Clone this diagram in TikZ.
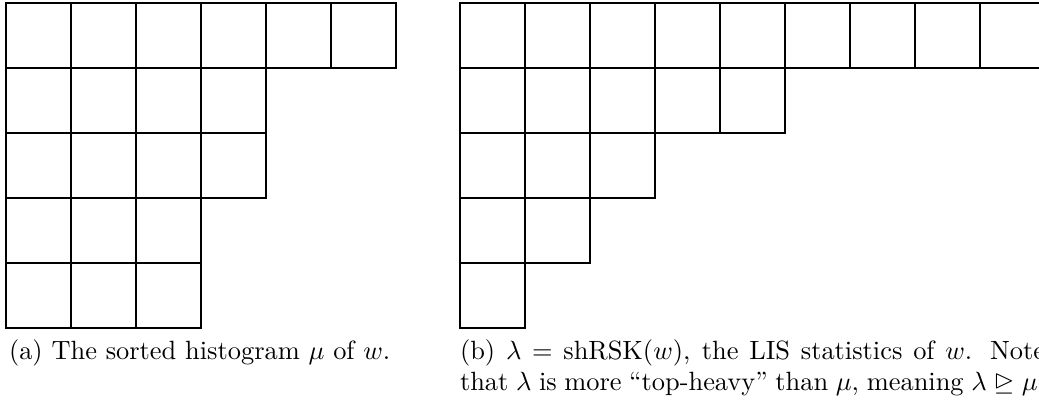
\documentclass[tikz,border=0pt]{standalone}
\usepackage{amssymb}
\usepackage{amsmath}

\begin{document}
\begin{tikzpicture}[
cell/.style = {draw=black, thick},
capt/.style = {inner sep=0pt, outer sep=0pt, anchor=base west}
                ]
    \useasboundingbox (0,0) rectangle (13.834,-5.353);
    \def\c{0.8655}  % side of one box

    % (a) sorted histogram mu
    \def\dx{0.080};
    \def\dy{-0.040};
    \foreach \r/\n in {1/6, 2/4, 3/4, 4/3, 5/3}
        \foreach \k in {1,...,\n}
            \draw[cell] (\dx+\k*\c-\c,\dy-\r*\c+\c) rectangle (\dx+\k*\c,\dy-\r*\c);
    \node[capt] at (0.12,-4.780) (capa) {(a) The sorted histogram $\mu$ of $w$.};

    % (b) lambda = shRSK(w)
    \def\dx{6.125};
    \foreach \r/\n in {1/9, 2/5, 3/3, 4/2, 5/1}
        \foreach \k in {1,...,\n}
            \draw[cell] (\dx+\k*\c-\c,\dy-\r*\c+\c) rectangle (\dx+\k*\c,\dy-\r*\c);
    \node[capt, text width=7.79cm, align=justify] at (\dx,-4.780) (capb)
        {(b) $\lambda = \mathrm{shRSK}(w)$, the LIS statistics of $w$. Note
         that $\lambda$ is more ``top-heavy'' than $\mu$, meaning $\lambda \trianglerighteq \mu$.};
\end{tikzpicture}
\end{document}
